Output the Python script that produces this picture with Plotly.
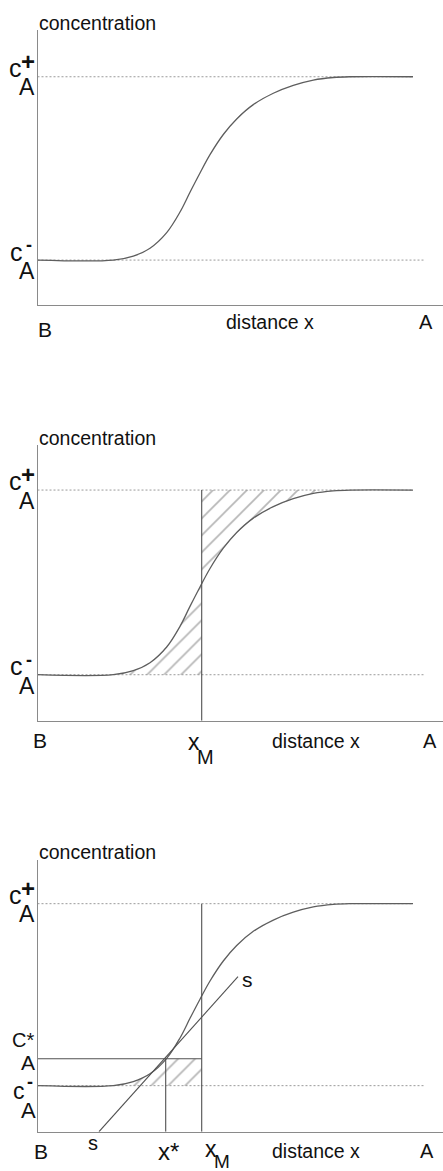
import plotly.graph_objects as go

W, H = 443, 1171

# ---- data ----
# distance axis: 0 = B (y-axis); units ~ pixels of the original drawing
curve_x = [0, 75.8, 95.8, 112.5, 129.2, 142.5, 152.5, 162.5, 172.5, 185.8,
           199.2, 215.8, 235.8, 255.8, 275.8, 295.8, 312.5, 375.5]
# normalized concentration: 0 = c_A^-, 1 = c_A^+
curve_c = [0, 0, 0.022, 0.065, 0.150, 0.262, 0.370, 0.475, 0.575, 0.685,
           0.770, 0.848, 0.910, 0.953, 0.982, 0.996, 1.0, 1.0]

C_MINUS = 0.0
C_PLUS = 1.0
C_STAR = 0.148
C_AT_XM = 0.49
X_M = 164.2
X_STAR = 128.2
UPPER_DOT_END = 375.5
LOWER_DOT_END = 387.5
tangent_x = [61.5, 200.5]
tangent_c = [-0.253, 0.599]

X_RANGE = [0, 405.5]
Y_RANGES = [[-0.245, 1.255], [-0.249, 1.244], [-0.253, 1.24]]
# panel pixel extents (top, bottom)
PANEL_PX = [(30, 305), (445, 720.7), (860, 1131.7)]
AXIS_LEFT_PX = 37.5

CURVE_COLOR = "#5e5e5e"
LINE_COLOR = "#505050"
AXIS_COLOR = "#8a8a8a"
DOT_COLOR = "#9a9a9a"
TEXT_COLOR = "#111111"
FONT = "Liberation Sans, Arial, Helvetica, sans-serif"

fig = go.Figure()


def ax(i):
    return ("x" if i == 1 else f"x{i}"), ("y" if i == 1 else f"y{i}")


def line(i, xs, ys, color, width=1.0, dash=None):
    xa, ya = ax(i)
    fig.add_trace(go.Scatter(
        x=xs, y=ys, xaxis=xa, yaxis=ya, mode="lines",
        line=dict(color=color, width=width, dash=dash),
        hoverinfo="skip", showlegend=False, cliponaxis=False))


def curve(i):
    xa, ya = ax(i)
    fig.add_trace(go.Scatter(
        x=curve_x, y=curve_c, xaxis=xa, yaxis=ya, mode="lines",
        line=dict(color=CURVE_COLOR, width=1.3, shape="spline", smoothing=1.0),
        hoverinfo="skip", showlegend=False, cliponaxis=False))


def hatch(i, xs, ys):
    xa, ya = ax(i)
    fig.add_trace(go.Scatter(
        x=xs, y=ys, xaxis=xa, yaxis=ya, mode="lines", fill="toself",
        fillcolor="rgba(0,0,0,0)",
        fillpattern=dict(shape="/", size=12, solidity=0.14,
                         fgcolor="#6e6e6e", bgcolor="rgba(255,255,255,0)"),
        line=dict(width=0, color="rgba(0,0,0,0)"),
        hoverinfo="skip", showlegend=False))


def dotted(i):
    line(i, [0, UPPER_DOT_END], [C_PLUS, C_PLUS], DOT_COLOR, 1, "2px,2px")
    line(i, [0, LOWER_DOT_END], [C_MINUS, C_MINUS], DOT_COLOR, 1, "2px,2px")


# ---- panel 1 ----
dotted(1)
curve(1)

# ---- panel 2 ----
left_x = [v for v in curve_x if 0 < v < X_M]
left_c = [curve_c[curve_x.index(v)] for v in left_x]
hatch(2, left_x + [X_M, X_M], left_c + [C_AT_XM, C_MINUS])
right_x = [v for v in curve_x if X_M < v <= 312.5]
right_c = [curve_c[curve_x.index(v)] for v in right_x]
hatch(2, [X_M] + right_x + [X_M], [C_AT_XM] + right_c + [C_PLUS])
dotted(2)
curve(2)
line(2, [X_M, X_M], [C_PLUS, Y_RANGES[1][0]], LINE_COLOR, 1.1)

# ---- panel 3 ----
low_x = [v for v in curve_x if 0 < v < X_STAR]
low_c = [curve_c[curve_x.index(v)] for v in low_x]
hatch(3, low_x + [X_STAR, X_M, X_M], low_c + [C_STAR, C_STAR, C_MINUS])
dotted(3)
curve(3)
line(3, [X_M, X_M], [C_PLUS, Y_RANGES[2][0]], LINE_COLOR, 1.1)
line(3, [X_STAR, X_STAR], [C_STAR, Y_RANGES[2][0]], LINE_COLOR, 1.1)
line(3, [0, X_M], [C_STAR, C_STAR], LINE_COLOR, 1.1)
line(3, tangent_x, tangent_c, LINE_COLOR, 1.1)

# ---- axes ----
layout_axes = {}
for i, ((top, bot), yr) in enumerate(zip(PANEL_PX, Y_RANGES), start=1):
    xk = "xaxis" if i == 1 else f"xaxis{i}"
    yk = "yaxis" if i == 1 else f"yaxis{i}"
    xa, ya = ax(i)
    layout_axes[xk] = dict(domain=[AXIS_LEFT_PX / W, 1], range=X_RANGE,
                           anchor=ya, showline=True, linecolor=AXIS_COLOR,
                           linewidth=1, showgrid=False, zeroline=False,
                           showticklabels=False, ticks="", fixedrange=True)
    layout_axes[yk] = dict(domain=[1 - bot / H, 1 - top / H], range=yr,
                           anchor=xa, showline=True, linecolor=AXIS_COLOR,
                           linewidth=1, showgrid=False, zeroline=False,
                           showticklabels=False, ticks="", fixedrange=True)

# ---- labels ----
ann = []


def lab(text, px, py, size=20, xanchor="center"):
    ann.append(dict(text=text, x=px / W, y=1 - py / H, xref="paper",
                    yref="paper", xanchor=xanchor, yanchor="middle",
                    showarrow=False, font=dict(size=size, color=TEXT_COLOR,
                                               family=FONT)))


def labc(text, px, i, cval, dy, size=22, xanchor="center"):
    _, ya = ax(i)
    ann.append(dict(text=text, x=px / W, y=cval, xref="paper", yref=ya,
                    yshift=-dy, xanchor=xanchor, yanchor="middle",
                    showarrow=False, font=dict(size=size, color=TEXT_COLOR,
                                               family=FONT)))


def labx(text, i, xval, dx, py, size=20):
    xa, _ = ax(i)
    ann.append(dict(text=text, x=xval, y=1 - py / H, xref=xa, yref="paper",
                    xshift=dx, xanchor="center", yanchor="middle",
                    showarrow=False, font=dict(size=size, color=TEXT_COLOR,
                                               family=FONT)))


def cplus(i):
    labc("c", 16, i, C_PLUS, -9, size=25)
    labc("<b>+</b>", 27.5, i, C_PLUS, -15.5, size=24)
    labc("A", 26.5, i, C_PLUS, 10.5, size=23)


def cminus(i):
    labc("c", 16.5, i, C_MINUS, -8.5, size=25)
    labc("<b>-</b>", 28.7, i, C_MINUS, -15, size=18)
    labc("A", 26.5, i, C_MINUS, 11, size=23)


# panel 1
lab("concentration", 36.5, 23, 19.5, "left")
cplus(1)
cminus(1)
lab("B", 44.5, 329.5, 21)
lab("distance x", 223.5, 322, 19.5, "left")
lab("A", 426, 322, 20)

# panel 2
lab("concentration", 36.5, 438, 19.5, "left")
cplus(2)
cminus(2)
lab("B", 40, 740.8, 21)
labx("x", 2, X_M, -8, 742.4, 23)
labx("M", 2, X_M, 3.5, 756.7, 20)
lab("distance x", 269.5, 741.4, 19.5, "left")
lab("A", 430, 740.8, 20)

# panel 3
lab("concentration", 36.5, 852, 19.5, "left")
cplus(3)
labc("C*", 9.5, 3, C_STAR, -18.5, size=20, xanchor="left")
labc("A", 28.3, 3, C_STAR, 3.5, size=21)
labc("c", 18.7, 3, C_MINUS, 5.5, size=23)
labc("<b>-</b>", 30, 3, C_MINUS, -3.5, size=18)
labc("A", 28.3, 3, C_MINUS, 24.8, size=22)
lab("B", 40.5, 1151, 21)
lab("s", 93, 1142.7, 20)
lab("s", 247, 979.7, 21)
lab("x*", 156, 1151, 24, "left")
labx("x", 3, X_M, 9, 1148.5, 23)
labx("M", 3, X_M, 20, 1161, 19)
lab("distance x", 269.5, 1151.4, 19.5, "left")
lab("A", 426.7, 1150.8, 20)

fig.update_layout(
    width=W, height=H, autosize=False,
    margin=dict(l=0, r=0, t=0, b=0, pad=0),
    paper_bgcolor="white", plot_bgcolor="white",
    showlegend=False, annotations=ann, **layout_axes)

fig.write_html("out.html", config={"displayModeBar": False})
